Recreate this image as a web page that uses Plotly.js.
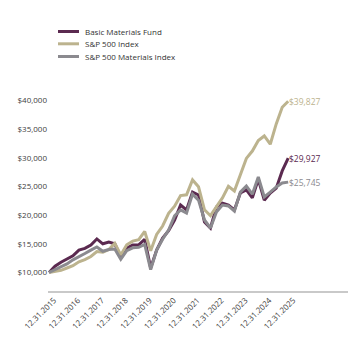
<!DOCTYPE html>
<html>
<head>
<meta charset="utf-8">
<script src="https://cdn.plot.ly/plotly-3.0.1.min.js"></script>
<style>html,body{margin:0;padding:0;background:#fff;}#chart{width:348px;height:340px;}</style>
</head>
<body>
<div id="chart"></div>
<script>
// Quarter index 0 = 12.31.2015 ... 40 = 12.31.2025
const quarters = Array.from({length: 41}, (_, i) => i);
const tickLabels = ['12.31.2015','12.31.2016','12.31.2017','12.31.2018','12.31.2019','12.31.2020','12.31.2021','12.31.2022','12.31.2023','12.31.2024','12.31.2025'];
const seriesNames = ['Basic Materials Fund', 'S&P 500 Index', 'S&P 500 Materials Index'];
const fundValues = [10000,11100,11800,12350,12900,13900,14200,14800,15850,15000,15300,15000,12700,14250,14800,14800,15800,10800,13900,16000,17300,19150,21750,20900,24000,23500,18800,17750,21400,22100,21750,20900,23850,24400,23000,26250,22600,23850,24700,27700,29927];
const sp500Values = [10000,10135,10384,10784,11196,11876,12243,12791,13640,13536,14000,15080,13041,14822,15459,15722,17148,13787,16619,18103,20303,21555,23398,23534,26131,24929,20916,19895,21399,23004,25015,24197,27026,29880,31158,32993,33789,32346,35885,38796,39827];
const materialsValues = [10000,10500,11000,11500,12200,12700,13300,13900,14450,13700,14000,14100,12300,13800,14300,14400,14900,10500,13900,15800,17400,19850,20900,20350,23650,22600,19150,17750,20550,21750,21600,20700,24000,25050,23650,26650,23150,24000,24900,25600,25745];
const yTicks = [10000,15000,20000,25000,30000,35000,40000];
const yTickLabels = ['$10,000','$15,000','$20,000','$25,000','$30,000','$35,000','$40,000'];

const colors = ['#5b2a50', '#bcb38e', '#8b8a8f'];
const allValues = [fundValues, sp500Values, materialsValues];
const FONT = 'Open Sans, sans-serif';

const traces = allValues.map((v, k) => ({
  x: quarters, y: v, type: 'scatter', mode: 'lines', name: seriesNames[k],
  line: {color: colors[k], width: 3}, hoverinfo: 'skip', showlegend: false
}));

const annotations = allValues.map((v, k) => ({
  x: quarters[quarters.length - 1], y: v[v.length - 1], xref: 'x', yref: 'y',
  text: '$' + v[v.length - 1].toLocaleString('en-US'), showarrow: false,
  xanchor: 'left', yanchor: 'middle', xshift: -1,
  font: {family: FONT, size: 8.5, color: colors[k]}
}));

// manual legend (compact spacing like the reference)
const legY = [31.5, 43.8, 56.5];
const shapes = [];
seriesNames.forEach((n, k) => {
  const yp = (291 - legY[k]) / 211;
  shapes.push({type: 'line', xref: 'paper', yref: 'paper',
    x0: (58 - 48) / 300, x1: (79 - 48) / 300, y0: yp, y1: yp,
    line: {color: colors[k], width: 3}});
  annotations.push({xref: 'paper', yref: 'paper', x: (83 - 48) / 300, y: yp,
    text: n, showarrow: false, xanchor: 'left', yanchor: 'middle',
    font: {family: FONT, size: 8, color: '#333'}});
});

const layout = {
  width: 348, height: 340,
  margin: {l: 48, r: 0, t: 80, b: 49},
  paper_bgcolor: '#fff', plot_bgcolor: '#fff',
  showlegend: false,
  font: {family: FONT, size: 8, color: '#404040'},
  xaxis: {
    range: [-0.17, 50], tickvals: quarters.filter(q => q % 4 === 0), ticktext: tickLabels,
    tickangle: -45, showgrid: false, zeroline: false,
    showline: true, linecolor: '#c9c9c9', linewidth: 1.5, ticks: '',
    ticklabelshift: 5,
    tickfont: {family: FONT, size: 8, color: '#404040'}
  },
  yaxis: {
    range: [6777, 43537], tickvals: yTicks, ticktext: yTickLabels,
    showgrid: false, zeroline: false, showline: false, ticks: '',
    tickfont: {family: FONT, size: 8, color: '#404040'}
  },
  shapes: shapes,
  annotations: annotations
};

Plotly.newPlot('chart', traces, layout, {displayModeBar: false, staticPlot: true});
</script>
</body>
</html>
